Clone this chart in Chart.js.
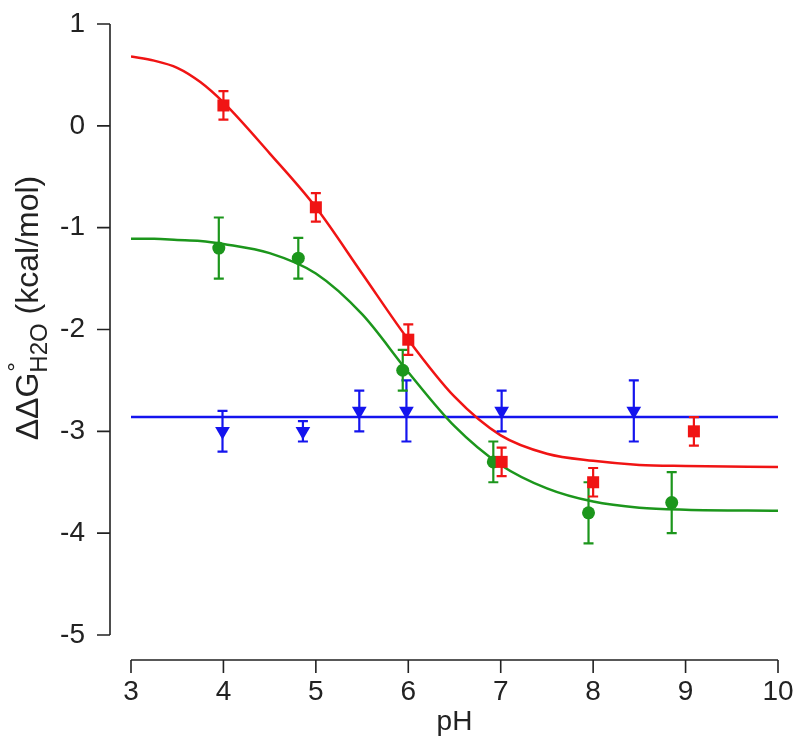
<!DOCTYPE html>
<html>
<head>
<meta charset="utf-8">
<script src="https://cdn.jsdelivr.net/npm/chart.js@4.4.1/dist/chart.umd.min.js"></script>
<style>
  html, body { margin: 0; background: #fff; }
  #wrap { width: 800px; height: 753px; }
</style>
</head>
<body>
<div id="wrap"><canvas id="chart"></canvas></div>
<script>
// ── Data ──
const xTicks = [3, 4, 5, 6, 7, 8, 9, 10];
const yTicks = [1, 0, -1, -2, -3, -4, -5];

const redPH  = [4.0, 5.0, 6.0, 7.01, 8.0, 9.09];
const redDG  = [0.2, -0.8, -2.1, -3.3, -3.5, -3.0];
const redErr = [0.14, 0.14, 0.15, 0.14, 0.14, 0.14];

const greenPH  = [3.95, 4.81, 5.94, 6.92, 7.95, 8.85];
const greenDG  = [-1.2, -1.3, -2.4, -3.3, -3.8, -3.7];
const greenErr = [0.3, 0.2, 0.2, 0.2, 0.3, 0.3];

const bluePH  = [3.99, 4.86, 5.47, 5.98, 7.01, 8.44];
const blueDG  = [-3.0, -3.0, -2.8, -2.8, -2.8, -2.8];
const blueErr = [0.2, 0.1, 0.2, 0.3, 0.2, 0.3];

// fitted curves
const fitPH    = [3, 3.25, 3.5, 3.75, 4, 4.5, 5, 5.5, 6, 6.5, 7, 7.5, 8, 8.5, 9, 10];
const redFit   = [0.68, 0.64, 0.57, 0.43, 0.23, -0.27, -0.8, -1.45, -2.1, -2.66, -3.04, -3.22, -3.29, -3.33, -3.34, -3.35];
const greenFit = [-1.11, -1.11, -1.12, -1.13, -1.16, -1.25, -1.45, -1.85, -2.42, -2.95, -3.33, -3.56, -3.69, -3.75, -3.77, -3.78];
const blueFitPH = [3, 10];
const blueFit   = [-2.86, -2.86];

const RED = '#f01414', GREEN = '#1c961c', BLUE = '#1414ee', INK = '#222';
const FONT = '"Liberation Sans", Arial, Helvetica, sans-serif';

function pts(xs, ys) { return xs.map(function(v, i) { return { x: v, y: ys[i] }; }); }

// ── Error bars ──
const errorBars = {
  id: 'errorBars',
  beforeDatasetDraw(chart, args) {
    const ds = chart.data.datasets[args.index];
    if (!ds.errors) return;
    const ctx = chart.ctx, x = chart.scales.x, y = chart.scales.y;
    ctx.save();
    ctx.strokeStyle = ds.borderColor;
    ctx.lineWidth = 2.2;
    ds.data.forEach(function(p, i) {
      const px = x.getPixelForValue(p.x);
      const top = y.getPixelForValue(p.y + ds.errors[i]);
      const bot = y.getPixelForValue(p.y - ds.errors[i]);
      ctx.beginPath();
      ctx.moveTo(px, top); ctx.lineTo(px, bot);
      ctx.moveTo(px - 5, top); ctx.lineTo(px + 5, top);
      ctx.moveTo(px - 5, bot); ctx.lineTo(px + 5, bot);
      ctx.stroke();
    });
    ctx.restore();
  }
};

// ── R-style detached axes + y title ──
const rAxes = {
  id: 'rAxes',
  afterDraw(chart) {
    const ctx = chart.ctx, a = chart.chartArea, x = chart.scales.x, y = chart.scales.y;
    const ax = a.left - 21, ay = a.bottom + 25;
    ctx.save();
    ctx.strokeStyle = INK;
    ctx.lineWidth = 1.6;
    ctx.beginPath();
    ctx.moveTo(ax, y.getPixelForValue(yTicks[0]));
    ctx.lineTo(ax, y.getPixelForValue(yTicks[yTicks.length - 1]));
    yTicks.forEach(function(v) { const py = y.getPixelForValue(v); ctx.moveTo(ax - 13, py); ctx.lineTo(ax, py); });
    ctx.moveTo(x.getPixelForValue(xTicks[0]), ay);
    ctx.lineTo(x.getPixelForValue(xTicks[xTicks.length - 1]), ay);
    xTicks.forEach(function(v) { const px = x.getPixelForValue(v); ctx.moveTo(px, ay); ctx.lineTo(px, ay + 13); });
    ctx.stroke();

    // y title: ΔΔG°(H2O) (kcal/mol)
    const big = '32px ' + FONT, small = '24px ' + FONT;
    ctx.fillStyle = INK;
    ctx.font = big;
    const w1 = ctx.measureText('ΔΔG').width;
    const w3 = ctx.measureText(' (kcal/mol)').width;
    ctx.font = small;
    const w2 = ctx.measureText('H2O').width;
    const total = w1 + w2 + w3;
    ctx.translate(38, 308);
    ctx.rotate(-Math.PI / 2);
    ctx.textBaseline = 'alphabetic';
    ctx.textAlign = 'left';
    let cx = -total / 2;
    ctx.font = big;
    ctx.fillText('ΔΔG', cx, 0);
    cx += w1;
    ctx.font = small;
    ctx.fillText('°', cx + 1, -14);
    ctx.fillText('H2O', cx, 9);
    cx += w2;
    ctx.font = big;
    ctx.fillText(' (kcal/mol)', cx, 0);
    ctx.restore();
  }
};

new Chart(document.getElementById('chart'), {
  type: 'scatter',
  data: {
    datasets: [
      { label: 'red', data: pts(redPH, redDG), errors: redErr, pointStyle: 'rect', pointRadius: 8.5,
        backgroundColor: RED, borderColor: RED, borderWidth: 0, clip: false },
      { label: 'green', data: pts(greenPH, greenDG), errors: greenErr, pointStyle: 'circle', pointRadius: 6.5,
        backgroundColor: GREEN, borderColor: GREEN, borderWidth: 0, clip: false },
      { label: 'blue', data: pts(bluePH, blueDG), errors: blueErr, pointStyle: 'triangle', rotation: 180, pointRadius: 8.5,
        backgroundColor: BLUE, borderColor: BLUE, borderWidth: 0, clip: false },
      { label: 'red fit', type: 'line', data: pts(fitPH, redFit), borderColor: RED, borderWidth: 2.5,
        pointRadius: 0, fill: false, cubicInterpolationMode: 'monotone' },
      { label: 'green fit', type: 'line', data: pts(fitPH, greenFit), borderColor: GREEN, borderWidth: 2.5,
        pointRadius: 0, fill: false, cubicInterpolationMode: 'monotone' },
      { label: 'blue fit', type: 'line', data: pts(blueFitPH, blueFit), borderColor: BLUE, borderWidth: 2.5,
        pointRadius: 0, fill: false }
    ]
  },
  options: {
    responsive: true, maintainAspectRatio: false, animation: false,
    layout: { padding: { top: 24, right: 22, left: 0, bottom: 0 } },
    plugins: { legend: { display: false }, tooltip: { enabled: false } },
    scales: {
      x: {
        type: 'linear', min: 3, max: 10,
        grid: { display: false, drawTicks: false }, border: { display: false },
        afterBuildTicks: function(s) { s.ticks = xTicks.map(function(v) { return { value: v }; }); },
        afterFit: function(s) { s.height = 118; s.paddingLeft = 0; s.paddingRight = 0; },
        ticks: { color: INK, font: { family: FONT, size: 28 }, padding: 40, maxRotation: 0 },
        title: { display: true, text: 'pH', color: INK, font: { family: FONT, size: 28 }, padding: { top: 0, bottom: 14 } }
      },
      y: {
        type: 'linear', min: -5, max: 1,
        grid: { display: false, drawTicks: false }, border: { display: false },
        afterBuildTicks: function(s) { s.ticks = yTicks.map(function(v) { return { value: v }; }); },
        afterFit: function(s) { s.width = 131; s.paddingTop = 0; s.paddingBottom = 0; },
        ticks: { color: INK, font: { family: FONT, size: 28 }, padding: 46 }
      }
    }
  },
  plugins: [errorBars, rAxes]
});
</script>
</body>
</html>
